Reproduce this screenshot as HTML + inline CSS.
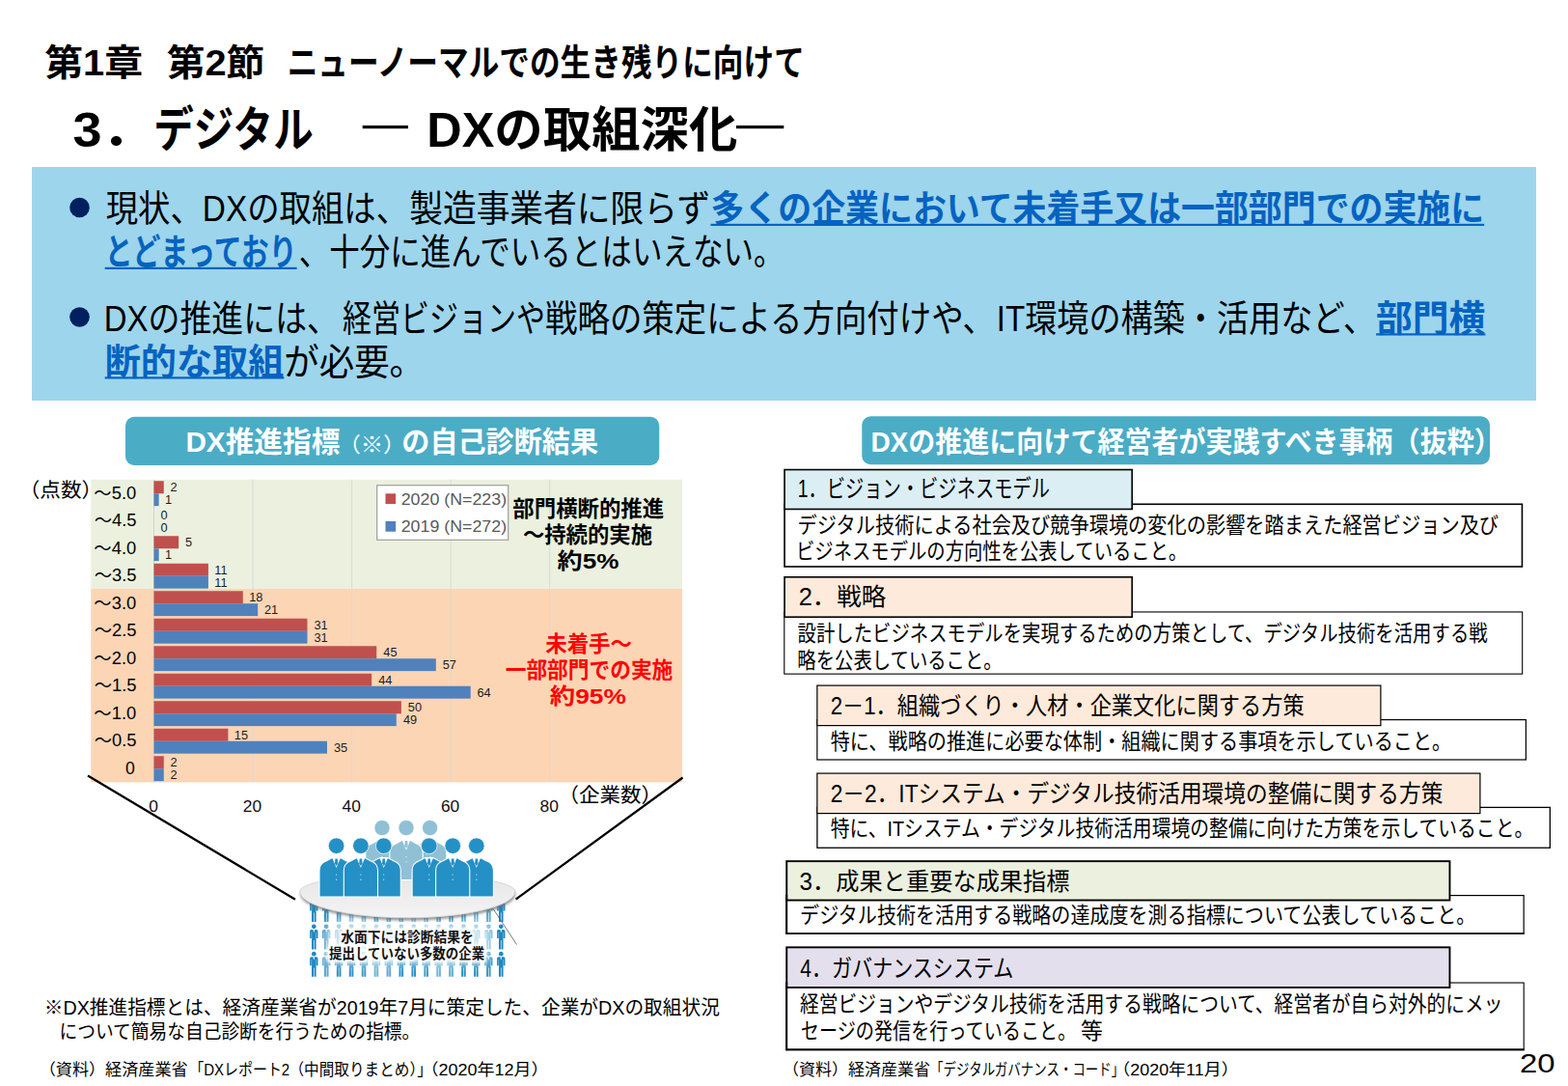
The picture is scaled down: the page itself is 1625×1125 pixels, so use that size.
<!DOCTYPE html>
<html lang="ja">
<head>
<meta charset="utf-8">
<title>第1章 第2節 ニューノーマルでの生き残りに向けて - 3．デジタル ― DXの取組深化―</title>
<style>
html,body{margin:0;padding:0;background:#fff}
body{width:1625px;height:1125px;overflow:hidden;font-family:"Liberation Sans","Noto Sans CJK JP",sans-serif}
#slide{position:relative;width:1625px;height:1125px;overflow:hidden;background:#fff}
#slide>svg{position:absolute;left:0;top:0}
/* real text layer: transparent, selectable / searchable copy sitting on top of the SVG text */
.t{position:absolute;margin:0;padding:0;white-space:nowrap;overflow:hidden;line-height:1.15;font-weight:normal;color:transparent;font-family:"Liberation Sans","Noto Sans CJK JP",sans-serif}
.t b,.b{font-weight:bold}
.t u{text-decoration:none}
text{font-family:"Liberation Sans","Noto Sans CJK JP",sans-serif}
.bl{font-size:12.4px;fill:#262626}
.ax{font-size:17.2px;fill:#1a1a1a;text-anchor:middle}
.lg{font-size:17.4px;fill:#595959}
</style>
</head>
<body>
<div id="slide">
<svg width="1625" height="1125" viewBox="0 0 1625 1125" aria-hidden="true">
<g id="shapes"><rect x="375.7" y="130" width="47.3" height="3.2" fill="#000"/><rect x="763" y="130" width="49.3" height="3.2" fill="#000"/><rect x="33" y="173" width="1559" height="242" fill="#9dd5ec"/><circle cx="82.5" cy="215" r="10.3" fill="#002060"/><circle cx="82.5" cy="328.5" r="10.3" fill="#002060"/><rect x="130" y="431.75" width="553.25" height="50.25" fill="#4bacc6" rx="9"/><rect x="893.25" y="431.25" width="650.75" height="50" fill="#4bacc6" rx="9"/><rect x="813.05" y="522.3" width="764.4" height="64.7" fill="#fff" stroke="#000" stroke-width="1.6"/><rect x="813.05" y="486.55" width="360.15" height="40.9" fill="#dbeef4" stroke="#000" stroke-width="1.6"/><rect x="812.8" y="633.95" width="764.9" height="64.2" fill="#fff" stroke="#000" stroke-width="1.1"/><rect x="813.05" y="597.8" width="360.15" height="41.4" fill="#fdeada" stroke="#000" stroke-width="1.6"/><rect x="846.85" y="745.6" width="734.55" height="41.4" fill="#fff" stroke="#000" stroke-width="1.2"/><rect x="846.85" y="710.1" width="584.05" height="41.5" fill="#fdeada" stroke="#000" stroke-width="1.2"/><rect x="846.9" y="836.4" width="759.45" height="41.85" fill="#fff" stroke="#000" stroke-width="1.3"/><rect x="846.85" y="801.1" width="687.05" height="41.5" fill="#fdeada" stroke="#000" stroke-width="1.2"/><rect x="814.9" y="927.6" width="764.25" height="39.5" fill="#fff" stroke="#000" stroke-width="1.2"/><rect x="815.25" y="892.15" width="687.2" height="40.4" fill="#ebf1de" stroke="#000" stroke-width="1.9"/><rect x="814.85" y="1018.05" width="764.35" height="69.6" fill="#fff" stroke="#000" stroke-width="1.1"/><rect x="815.25" y="981.35" width="687.2" height="41.6" fill="#e4dfec" stroke="#000" stroke-width="1.9"/><path d="M815.25 927V967.7M815.25 1017.5V1088.2" stroke="#000" stroke-width="1.9" fill="none"/><path d="M814.3 967H1579.75" stroke="#000" stroke-width="1.5" fill="none"/><path d="M814.3 1087.3H1579.75" stroke="#000" stroke-width="1.9" fill="none"/></g>
<g id="chart"><rect x="94.25" y="496.75" width="612.75" height="113.4" fill="#ebf1de"/><rect x="94.25" y="610" width="612.75" height="200.4" fill="#fcd5b5"/><line x1="159.5" y1="496.75" x2="159.5" y2="810.4" stroke="#d0d0d0" stroke-width="1"/><line x1="262.06" y1="496.75" x2="262.06" y2="810.4" stroke="#d9d9d9" stroke-width="1"/><line x1="364.62" y1="496.75" x2="364.62" y2="810.4" stroke="#d9d9d9" stroke-width="1"/><line x1="467.18" y1="496.75" x2="467.18" y2="810.4" stroke="#d9d9d9" stroke-width="1"/><line x1="569.74" y1="496.75" x2="569.74" y2="810.4" stroke="#d9d9d9" stroke-width="1"/><rect x="159.5" y="498.25" width="10.26" height="13" fill="#c0504d"/><rect x="159.5" y="511.25" width="5.13" height="12.9" fill="#4f81bd"/><rect x="159.5" y="555.25" width="25.64" height="13" fill="#c0504d"/><rect x="159.5" y="568.25" width="5.13" height="12.9" fill="#4f81bd"/><rect x="159.5" y="583.75" width="56.41" height="13" fill="#c0504d"/><rect x="159.5" y="596.75" width="56.41" height="12.9" fill="#4f81bd"/><rect x="159.5" y="612.25" width="92.3" height="13" fill="#c0504d"/><rect x="159.5" y="625.25" width="107.69" height="12.9" fill="#4f81bd"/><rect x="159.5" y="640.75" width="158.97" height="13" fill="#c0504d"/><rect x="159.5" y="653.75" width="158.97" height="12.9" fill="#4f81bd"/><rect x="159.5" y="669.25" width="230.76" height="13" fill="#c0504d"/><rect x="159.5" y="682.25" width="292.3" height="12.9" fill="#4f81bd"/><rect x="159.5" y="697.75" width="225.63" height="13" fill="#c0504d"/><rect x="159.5" y="710.75" width="328.19" height="12.9" fill="#4f81bd"/><rect x="159.5" y="726.25" width="256.4" height="13" fill="#c0504d"/><rect x="159.5" y="739.25" width="251.27" height="12.9" fill="#4f81bd"/><rect x="159.5" y="754.75" width="76.92" height="13" fill="#c0504d"/><rect x="159.5" y="767.75" width="179.48" height="12.9" fill="#4f81bd"/><rect x="159.5" y="783.25" width="10.26" height="13" fill="#c0504d"/><rect x="159.5" y="796.25" width="10.26" height="12.9" fill="#4f81bd"/><rect x="390.75" y="502.75" width="136" height="56.5" fill="#fff" stroke="#8c8c8c" stroke-width="1"/><rect x="399.5" y="511.3" width="10.6" height="10.7" fill="#c0504d"/><rect x="399.5" y="540" width="10.6" height="10.7" fill="#4f81bd"/><path d="M91 803.5L306 931.7M707.6 805.5L534.5 931.7" stroke="#000" stroke-width="2.2" fill="none"/></g>
<g id="illust"><defs><filter id="bl" x="-20%" y="-50%" width="140%" height="200%"><feGaussianBlur stdDeviation="1.6"/></filter><filter id="bl2" x="-20%" y="-40%" width="140%" height="180%"><feGaussianBlur stdDeviation="5"/></filter><filter id="bl3" x="-5%" y="-30%" width="110%" height="160%"><feMorphology operator="dilate" radius="2"/><feGaussianBlur stdDeviation="1.3"/></filter><linearGradient id="eg" x1="0" y1="0" x2="0" y2="1"><stop offset="0" stop-color="#e6e6e6"/><stop offset="1" stop-color="#f4f4f4"/></linearGradient><g id="pp"><circle cx="0" cy="0" r="2.35"/><path d="M-2.6 3.1h5.2q1.6 0 1.6 1.6v7.4h-1.7v-6.2h-.3v8.4h-4.4v-8.4h-.3v6.2h-1.7v-7.4q0-1.6 1.6-1.6z"/><path d="M-2.3 13.6h2v10h-2zM.3 13.6h2v10h-2z"/><path d="M-.9 3.1h1.8l-.9 3.4z" fill="#fff"/></g></defs><use href="#pp" x="325.3" y="931.3" fill="#2088c0"/><use href="#pp" x="338.23" y="931.3" fill="#2a8fc4"/><use href="#pp" x="351.16" y="931.3" fill="#3c9bcc"/><use href="#pp" x="364.09" y="931.3" fill="#6cb3d8"/><use href="#pp" x="377.02" y="931.3" fill="#57a9d3"/><use href="#pp" x="389.95" y="931.3" fill="#2a8fc4"/><use href="#pp" x="402.88" y="931.3" fill="#2a8fc4"/><use href="#pp" x="415.81" y="931.3" fill="#3c9bcc"/><use href="#pp" x="428.74" y="931.3" fill="#6cb3d8"/><use href="#pp" x="441.67" y="931.3" fill="#57a9d3"/><use href="#pp" x="454.6" y="931.3" fill="#2a8fc4"/><use href="#pp" x="467.53" y="931.3" fill="#2a8fc4"/><use href="#pp" x="480.46" y="931.3" fill="#3c9bcc"/><use href="#pp" x="493.39" y="931.3" fill="#6cb3d8"/><use href="#pp" x="506.32" y="931.3" fill="#57a9d3"/><use href="#pp" x="519.25" y="931.3" fill="#2088c0"/><use href="#pp" x="325.3" y="959.8" fill="#2088c0"/><use href="#pp" x="338.23" y="959.8" fill="#2a8fc4"/><use href="#pp" x="351.16" y="959.8" fill="#2a8fc4"/><use href="#pp" x="364.09" y="959.8" fill="#3c9bcc"/><use href="#pp" x="377.02" y="959.8" fill="#6cb3d8"/><use href="#pp" x="389.95" y="959.8" fill="#57a9d3"/><use href="#pp" x="402.88" y="959.8" fill="#2a8fc4"/><use href="#pp" x="415.81" y="959.8" fill="#2a8fc4"/><use href="#pp" x="428.74" y="959.8" fill="#3c9bcc"/><use href="#pp" x="441.67" y="959.8" fill="#6cb3d8"/><use href="#pp" x="454.6" y="959.8" fill="#57a9d3"/><use href="#pp" x="467.53" y="959.8" fill="#2a8fc4"/><use href="#pp" x="480.46" y="959.8" fill="#2a8fc4"/><use href="#pp" x="493.39" y="959.8" fill="#3c9bcc"/><use href="#pp" x="506.32" y="959.8" fill="#6cb3d8"/><use href="#pp" x="519.25" y="959.8" fill="#2088c0"/><use href="#pp" x="325.3" y="988.2" fill="#2088c0"/><use href="#pp" x="338.23" y="988.2" fill="#57a9d3"/><use href="#pp" x="351.16" y="988.2" fill="#2a8fc4"/><use href="#pp" x="364.09" y="988.2" fill="#2a8fc4"/><use href="#pp" x="377.02" y="988.2" fill="#3c9bcc"/><use href="#pp" x="389.95" y="988.2" fill="#6cb3d8"/><use href="#pp" x="402.88" y="988.2" fill="#57a9d3"/><use href="#pp" x="415.81" y="988.2" fill="#2a8fc4"/><use href="#pp" x="428.74" y="988.2" fill="#2a8fc4"/><use href="#pp" x="441.67" y="988.2" fill="#3c9bcc"/><use href="#pp" x="454.6" y="988.2" fill="#6cb3d8"/><use href="#pp" x="467.53" y="988.2" fill="#57a9d3"/><use href="#pp" x="480.46" y="988.2" fill="#2a8fc4"/><use href="#pp" x="493.39" y="988.2" fill="#2a8fc4"/><use href="#pp" x="506.32" y="988.2" fill="#3c9bcc"/><use href="#pp" x="519.25" y="988.2" fill="#2088c0"/><rect x="337" y="955" width="170" height="44" rx="10" fill="#fff" opacity=".72" filter="url(#bl2)"/><g filter="url(#bl3)" opacity=".9"><text x="353.21" y="975.6" font-size="14.6" font-weight="bold" fill="#fff" stroke="#fff" stroke-width=".6" textLength="137.7" lengthAdjust="spacingAndGlyphs">水面下には診断結果を</text><text x="341.12" y="992.8" font-size="14.6" font-weight="bold" fill="#fff" stroke="#fff" stroke-width=".6" textLength="161.1" lengthAdjust="spacingAndGlyphs">提出していない多数の企業</text></g><path d="M509.5 939L535.5 978.5" stroke="#555" stroke-width=".8"/><path d="M310.8 923.4A111.5 17.6 0 0 1 533.8 923.4A111.5 27.4 0 0 1 310.8 923.4Z" transform="translate(0.4 2.4)" fill="#6e6e6e" opacity=".8" filter="url(#bl)"/><path d="M310.8 923.4A111.5 17.6 0 0 1 533.8 923.4A111.5 27.4 0 0 1 310.8 923.4Z" fill="url(#eg)" stroke="#d2d2d2" stroke-width=".8"/><path d="M378.8 911.5V883.7Q378.8 875.7 386.3 873.4L391.8 870.2H400.2L405.7 873.4Q413.2 875.7 413.2 883.7V911.5Z" fill="#8fc0d6" stroke="#fff" stroke-width="1.1"/><circle cx="396" cy="857.6" r="8.1" fill="#8fc0d6" stroke="#fff" stroke-width=".7"/><path d="M391.6 870L400.4 870L396 880.7Z" fill="#fff"/><path d="M394.8 871h2.4l.5 5.2-1.7 2.6-1.7-2.6z" fill="#8fc0d6"/><circle cx="396" cy="887.7" r=".65" fill="#fff" opacity=".8"/><circle cx="396" cy="892.8" r=".65" fill="#fff" opacity=".8"/><path d="M428.4 911.5V883.7Q428.4 875.7 435.9 873.4L441.4 870.2H449.8L455.3 873.4Q462.8 875.7 462.8 883.7V911.5Z" fill="#8fc0d6" stroke="#fff" stroke-width="1.1"/><circle cx="445.6" cy="857.6" r="8.1" fill="#8fc0d6" stroke="#fff" stroke-width=".7"/><path d="M441.2 870L450 870L445.6 880.7Z" fill="#fff"/><path d="M444.4 871h2.4l.5 5.2-1.7 2.6-1.7-2.6z" fill="#8fc0d6"/><circle cx="445.6" cy="887.7" r=".65" fill="#fff" opacity=".8"/><circle cx="445.6" cy="892.8" r=".65" fill="#fff" opacity=".8"/><path d="M403.8 911.5V883.7Q403.8 875.7 411.3 873.4L416.8 870.2H425.2L430.7 873.4Q438.2 875.7 438.2 883.7V911.5Z" fill="#8fc0d6" stroke="#fff" stroke-width="1.1"/><circle cx="421" cy="857.6" r="8.1" fill="#8fc0d6" stroke="#fff" stroke-width=".7"/><path d="M416.6 870L425.4 870L421 880.7Z" fill="#fff"/><path d="M419.8 871h2.4l.5 5.2-1.7 2.6-1.7-2.6z" fill="#8fc0d6"/><circle cx="421" cy="887.7" r=".65" fill="#fff" opacity=".8"/><circle cx="421" cy="892.8" r=".65" fill="#fff" opacity=".8"/><path d="M331 929V902.1Q331 894.1 338.5 891.8L344.4 888.6H352.8L358.7 891.8Q366.2 894.1 366.2 902.1V929Z" fill="#2490c6" stroke="#fff" stroke-width="1.1"/><circle cx="348.6" cy="876.2" r="8.3" fill="#2490c6" stroke="#fff" stroke-width=".7"/><path d="M344.2 888.4L353 888.4L348.6 899.1Z" fill="#fff"/><path d="M347.4 889.4h2.4l.5 5.2-1.7 2.6-1.7-2.6z" fill="#2490c6"/><circle cx="348.6" cy="906.1" r=".65" fill="#fff" opacity=".8"/><circle cx="348.6" cy="911.2" r=".65" fill="#fff" opacity=".8"/><path d="M380.1 929V902.1Q380.1 894.1 387.6 891.8L393.5 888.6H401.9L407.8 891.8Q415.3 894.1 415.3 902.1V929Z" fill="#2490c6" stroke="#fff" stroke-width="1.1"/><circle cx="397.7" cy="876.2" r="8.3" fill="#2490c6" stroke="#fff" stroke-width=".7"/><path d="M393.3 888.4L402.1 888.4L397.7 899.1Z" fill="#fff"/><path d="M396.5 889.4h2.4l.5 5.2-1.7 2.6-1.7-2.6z" fill="#2490c6"/><circle cx="397.7" cy="906.1" r=".65" fill="#fff" opacity=".8"/><circle cx="397.7" cy="911.2" r=".65" fill="#fff" opacity=".8"/><path d="M427.1 929V902.1Q427.1 894.1 434.6 891.8L440.5 888.6H448.9L454.8 891.8Q462.3 894.1 462.3 902.1V929Z" fill="#2490c6" stroke="#fff" stroke-width="1.1"/><circle cx="444.7" cy="876.2" r="8.3" fill="#2490c6" stroke="#fff" stroke-width=".7"/><path d="M440.3 888.4L449.1 888.4L444.7 899.1Z" fill="#fff"/><path d="M443.5 889.4h2.4l.5 5.2-1.7 2.6-1.7-2.6z" fill="#2490c6"/><circle cx="444.7" cy="906.1" r=".65" fill="#fff" opacity=".8"/><circle cx="444.7" cy="911.2" r=".65" fill="#fff" opacity=".8"/><path d="M476.2 929V902.1Q476.2 894.1 483.7 891.8L489.6 888.6H498L503.9 891.8Q511.4 894.1 511.4 902.1V929Z" fill="#2490c6" stroke="#fff" stroke-width="1.1"/><circle cx="493.8" cy="876.2" r="8.3" fill="#2490c6" stroke="#fff" stroke-width=".7"/><path d="M489.4 888.4L498.2 888.4L493.8 899.1Z" fill="#fff"/><path d="M492.6 889.4h2.4l.5 5.2-1.7 2.6-1.7-2.6z" fill="#2490c6"/><circle cx="493.8" cy="906.1" r=".65" fill="#fff" opacity=".8"/><circle cx="493.8" cy="911.2" r=".65" fill="#fff" opacity=".8"/><path d="M356.3 929V902.1Q356.3 894.1 363.8 891.8L369.7 888.6H378.1L384 891.8Q391.5 894.1 391.5 902.1V929Z" fill="#2490c6" stroke="#fff" stroke-width="1.1"/><circle cx="373.9" cy="876.2" r="8.3" fill="#2490c6" stroke="#fff" stroke-width=".7"/><path d="M369.5 888.4L378.3 888.4L373.9 899.1Z" fill="#fff"/><path d="M372.7 889.4h2.4l.5 5.2-1.7 2.6-1.7-2.6z" fill="#2490c6"/><circle cx="373.9" cy="906.1" r=".65" fill="#fff" opacity=".8"/><circle cx="373.9" cy="911.2" r=".65" fill="#fff" opacity=".8"/><path d="M451.6 929V902.1Q451.6 894.1 459.1 891.8L465 888.6H473.4L479.3 891.8Q486.8 894.1 486.8 902.1V929Z" fill="#2490c6" stroke="#fff" stroke-width="1.1"/><circle cx="469.2" cy="876.2" r="8.3" fill="#2490c6" stroke="#fff" stroke-width=".7"/><path d="M464.8 888.4L473.6 888.4L469.2 899.1Z" fill="#fff"/><path d="M468 889.4h2.4l.5 5.2-1.7 2.6-1.7-2.6z" fill="#2490c6"/><circle cx="469.2" cy="906.1" r=".65" fill="#fff" opacity=".8"/><circle cx="469.2" cy="911.2" r=".65" fill="#fff" opacity=".8"/></g>
<g id="glyphs">
<text x="46.26" y="78" font-size="37.5" font-weight="bold" fill="#000" textLength="101.9" lengthAdjust="spacingAndGlyphs">第1章</text>
<text x="172.76" y="78" font-size="37.5" font-weight="bold" fill="#000" textLength="101.6" lengthAdjust="spacingAndGlyphs">第2節</text>
<text x="297.64" y="78" font-size="37.5" font-weight="bold" fill="#000" textLength="536.2" lengthAdjust="spacingAndGlyphs">ニューノーマルでの生き残りに向けて</text>
<text x="75.51" y="151.5" font-size="50" font-weight="bold" fill="#000" textLength="84" lengthAdjust="spacingAndGlyphs">3．</text>
<text x="159.32" y="152" font-size="50" font-weight="bold" fill="#000" textLength="165.4" lengthAdjust="spacingAndGlyphs">デジタル</text>
<text x="442.35" y="152" font-size="50" font-weight="bold" fill="#000" textLength="322" lengthAdjust="spacingAndGlyphs">DXの取組深化</text>
<text x="109.7" y="229" font-size="37.5" fill="#000" textLength="313.4" lengthAdjust="spacingAndGlyphs">現状、DXの取組は、</text>
<text x="424.15" y="229" font-size="37.5" fill="#000" textLength="312" lengthAdjust="spacingAndGlyphs">製造事業者に限らず</text>
<text x="736.52" y="229" font-size="37.5" font-weight="bold" fill="#0563c1" textLength="801.6" lengthAdjust="spacingAndGlyphs">多くの企業において未着手又は一部部門での実施に</text>
<rect x="736.52" y="231.81" width="801.63" height="2.18" fill="#0563c1"/>
<text x="108.68" y="274" font-size="37.5" font-weight="bold" fill="#0563c1" textLength="198.9" lengthAdjust="spacingAndGlyphs">とどまっており</text>
<rect x="108.68" y="276.81" width="198.93" height="2.18" fill="#0563c1"/>
<text x="309.64" y="274" font-size="37.5" fill="#000" textLength="502.9" lengthAdjust="spacingAndGlyphs">、十分に進んでいるとはいえない。</text>
<text x="107.87" y="342.5" font-size="37.5" fill="#000" textLength="243.1" lengthAdjust="spacingAndGlyphs">DXの推進には、</text>
<text x="355" y="342.5" font-size="37.5" fill="#000" textLength="210" lengthAdjust="spacingAndGlyphs">経営ビジョンや</text>
<text x="565.1" y="342.5" font-size="37.5" fill="#000" textLength="465.9" lengthAdjust="spacingAndGlyphs">戦略の策定による方向付けや、</text>
<text x="1032.74" y="342.5" font-size="37.5" fill="#000" textLength="392.3" lengthAdjust="spacingAndGlyphs">IT環境の構築・活用など、</text>
<text x="1426.09" y="342.5" font-size="37.5" font-weight="bold" fill="#0563c1" textLength="113.3" lengthAdjust="spacingAndGlyphs">部門横</text>
<rect x="1426.09" y="345.31" width="113.27" height="2.18" fill="#0563c1"/>
<text x="108.67" y="387.5" font-size="37.5" font-weight="bold" fill="#0563c1" textLength="185.6" lengthAdjust="spacingAndGlyphs">断的な取組</text>
<rect x="108.67" y="390.31" width="185.64" height="2.18" fill="#0563c1"/>
<text x="294.35" y="387.5" font-size="37.5" fill="#000" textLength="145.7" lengthAdjust="spacingAndGlyphs">が必要。</text>
<text x="192.4" y="468" font-size="29.2" font-weight="bold" fill="#fff" textLength="160" lengthAdjust="spacingAndGlyphs">DX推進指標</text>
<text x="350.46" y="468" font-size="21.5" fill="#fff" textLength="70" lengthAdjust="spacingAndGlyphs">（※）</text>
<text x="416.31" y="468" font-size="29.2" font-weight="bold" fill="#fff" textLength="203.7" lengthAdjust="spacingAndGlyphs">の自己診断結果</text>
<text x="902.4" y="467.5" font-size="29.2" font-weight="bold" fill="#fff" textLength="653.3" lengthAdjust="spacingAndGlyphs">DXの推進に向けて経営者が実践すべき事柄（抜粋）</text>
<text x="19.69" y="515.2" font-size="20.8" fill="#000" textLength="86.4" lengthAdjust="spacingAndGlyphs">（点数）</text>
<text x="97.39" y="516.85" font-size="17.6" fill="#000" textLength="43.8" lengthAdjust="spacingAndGlyphs">～5.0</text>
<text x="97.75" y="545.35" font-size="17.6" fill="#000" textLength="43.8" lengthAdjust="spacingAndGlyphs">～4.5</text>
<text x="97.39" y="573.85" font-size="17.6" fill="#000" textLength="43.8" lengthAdjust="spacingAndGlyphs">～4.0</text>
<text x="97.75" y="602.35" font-size="17.6" fill="#000" textLength="43.8" lengthAdjust="spacingAndGlyphs">～3.5</text>
<text x="97.39" y="630.85" font-size="17.6" fill="#000" textLength="43.8" lengthAdjust="spacingAndGlyphs">～3.0</text>
<text x="97.75" y="659.35" font-size="17.6" fill="#000" textLength="43.8" lengthAdjust="spacingAndGlyphs">～2.5</text>
<text x="97.39" y="687.85" font-size="17.6" fill="#000" textLength="43.8" lengthAdjust="spacingAndGlyphs">～2.0</text>
<text x="97.75" y="716.35" font-size="17.6" fill="#000" textLength="43.8" lengthAdjust="spacingAndGlyphs">～1.5</text>
<text x="97.39" y="744.85" font-size="17.6" fill="#000" textLength="43.8" lengthAdjust="spacingAndGlyphs">～1.0</text>
<text x="97.75" y="773.35" font-size="17.6" fill="#000" textLength="43.8" lengthAdjust="spacingAndGlyphs">～0.5</text>
<text x="130.12" y="801.85" font-size="17.6" fill="#000">0</text>
<text x="578.44" y="831" font-size="20.8" fill="#000" textLength="107.6" lengthAdjust="spacingAndGlyphs">（企業数）</text>
<text x="531.35" y="535" font-size="22.6" font-weight="bold" fill="#000" textLength="156.8" lengthAdjust="spacingAndGlyphs">部門横断的推進</text>
<text x="541.91" y="562.3" font-size="22.6" font-weight="bold" fill="#000" textLength="134.1" lengthAdjust="spacingAndGlyphs">～持続的実施</text>
<text x="577.64" y="589.3" font-size="22.6" font-weight="bold" fill="#000" textLength="63.7" lengthAdjust="spacingAndGlyphs">約5%</text>
<text x="565.18" y="675" font-size="22.6" font-weight="bold" fill="#f00" textLength="89.9" lengthAdjust="spacingAndGlyphs">未着手～</text>
<text x="523.72" y="702" font-size="22.6" font-weight="bold" fill="#f00" textLength="173.6" lengthAdjust="spacingAndGlyphs">一部部門での実施</text>
<text x="569.89" y="729" font-size="22.6" font-weight="bold" fill="#f00" textLength="79" lengthAdjust="spacingAndGlyphs">約95%</text>
<text x="353.21" y="975.6" font-size="14.6" font-weight="bold" fill="#111" textLength="137.7" lengthAdjust="spacingAndGlyphs">水面下には診断結果を</text>
<text x="341.12" y="992.8" font-size="14.6" font-weight="bold" fill="#111" textLength="161.1" lengthAdjust="spacingAndGlyphs">提出していない多数の企業</text>
<text x="45.76" y="1051" font-size="20.8" fill="#000" textLength="700.1" lengthAdjust="spacingAndGlyphs">※DX推進指標とは、経済産業省が2019年7月に策定した、企業がDXの取組状況</text>
<text x="61.49" y="1076.3" font-size="20.8" fill="#000" textLength="373.8" lengthAdjust="spacingAndGlyphs">について簡易な自己診断を行うための指標。</text>
<text x="40.73" y="1113.5" font-size="16.67" fill="#000" textLength="153.9" lengthAdjust="spacingAndGlyphs">（資料）経済産業省</text>
<text x="196.2" y="1113.5" font-size="16.67" fill="#000" textLength="104" lengthAdjust="spacingAndGlyphs">「DXレポート2</text>
<text x="299.43" y="1113.5" font-size="16.67" fill="#000" textLength="148.4" lengthAdjust="spacingAndGlyphs">（中間取りまとめ）」</text>
<text x="436.43" y="1113.5" font-size="16.67" fill="#000" textLength="132.1" lengthAdjust="spacingAndGlyphs">（2020年12月）</text>
<text x="811.13" y="1113.8" font-size="16.67" fill="#000" textLength="152.9" lengthAdjust="spacingAndGlyphs">（資料）経済産業省</text>
<text x="964.1" y="1113.8" font-size="16.67" fill="#000" textLength="201.2" lengthAdjust="spacingAndGlyphs">「デジタルガバナンス・コード」</text>
<text x="1153.23" y="1113.8" font-size="16.67" fill="#000" textLength="130.4" lengthAdjust="spacingAndGlyphs">（2020年11月）</text>
<text x="1574.98" y="1111.3" font-size="28" fill="#000" textLength="36.6" lengthAdjust="spacingAndGlyphs">20</text>
<text x="826.79" y="515.4" font-size="25" fill="#000" textLength="261.2" lengthAdjust="spacingAndGlyphs">1．ビジョン・ビジネスモデル</text>
<text x="826.59" y="551.5" font-size="22.9" fill="#000" textLength="726.5" lengthAdjust="spacingAndGlyphs">デジタル技術による社会及び競争環境の変化の影響を踏まえた経営ビジョン及び</text>
<text x="825.03" y="579" font-size="22.9" fill="#000" textLength="405.3" lengthAdjust="spacingAndGlyphs">ビジネスモデルの方向性を公表していること。</text>
<text x="827.7" y="627.4" font-size="25" fill="#000" textLength="90.6" lengthAdjust="spacingAndGlyphs">2．戦略</text>
<text x="826.55" y="664.2" font-size="22.9" fill="#000" textLength="715.1" lengthAdjust="spacingAndGlyphs">設計したビジネスモデルを実現するための方策として、デジタル技術を活用する戦</text>
<text x="826.31" y="691.8" font-size="22.9" fill="#000" textLength="212.4" lengthAdjust="spacingAndGlyphs">略を公表していること。</text>
<text x="860.7" y="740.3" font-size="25" fill="#000" textLength="491" lengthAdjust="spacingAndGlyphs">2－1．組織づくり・人材・企業文化に関する方策</text>
<text x="860.68" y="775.6" font-size="22.9" fill="#000" textLength="643.6" lengthAdjust="spacingAndGlyphs">特に、戦略の推進に必要な体制・組織に関する事項を示していること。</text>
<text x="860.7" y="831.1" font-size="25" fill="#000" textLength="634.7" lengthAdjust="spacingAndGlyphs">2－2．ITシステム・デジタル技術活用環境の整備に関する方策</text>
<text x="860.68" y="866.3" font-size="22.9" fill="#000" textLength="728.6" lengthAdjust="spacingAndGlyphs">特に、ITシステム・デジタル技術活用環境の整備に向けた方策を示していること。</text>
<text x="828.62" y="921.8" font-size="25" fill="#000" textLength="279.9" lengthAdjust="spacingAndGlyphs">3．成果と重要な成果指標</text>
<text x="829.09" y="956" font-size="22.9" fill="#000" textLength="700.2" lengthAdjust="spacingAndGlyphs">デジタル技術を活用する戦略の達成度を測る指標について公表していること。</text>
<text x="829.3" y="1011.8" font-size="25" fill="#000" textLength="221.1" lengthAdjust="spacingAndGlyphs">4．ガバナンスシステム</text>
<text x="829.09" y="1047.6" font-size="22.9" fill="#000" textLength="728.4" lengthAdjust="spacingAndGlyphs">経営ビジョンやデジタル技術を活用する戦略について、経営者が自ら対外的にメッ</text>
<text x="829.87" y="1075.6" font-size="22.9" fill="#000" textLength="285.4" lengthAdjust="spacingAndGlyphs">セージの発信を行っていること。</text>
<text x="1120.11" y="1075.6" font-size="22.9" fill="#000">等</text>
<text x="176.51" y="509.25" font-size="12.8" fill="#1c1c1c">2</text>
<text x="171.05" y="522.25" font-size="12.8" fill="#1c1c1c">1</text>
<text x="166.4" y="537.75" font-size="12.8" fill="#1c1c1c">0</text>
<text x="166.4" y="550.75" font-size="12.8" fill="#1c1c1c">0</text>
<text x="192.03" y="566.25" font-size="12.8" fill="#1c1c1c">5</text>
<text x="171.05" y="579.25" font-size="12.8" fill="#1c1c1c">1</text>
<text x="222.33" y="594.75" font-size="12.8" fill="#1c1c1c">11</text>
<text x="222.33" y="607.75" font-size="12.8" fill="#1c1c1c">11</text>
<text x="258.23" y="623.25" font-size="12.8" fill="#1c1c1c">18</text>
<text x="273.94" y="636.25" font-size="12.8" fill="#1c1c1c">21</text>
<text x="325.38" y="651.75" font-size="12.8" fill="#1c1c1c">31</text>
<text x="325.38" y="664.75" font-size="12.8" fill="#1c1c1c">31</text>
<text x="397.37" y="680.25" font-size="12.8" fill="#1c1c1c">45</text>
<text x="458.68" y="693.25" font-size="12.8" fill="#1c1c1c">57</text>
<text x="392.24" y="708.75" font-size="12.8" fill="#1c1c1c">44</text>
<text x="494.44" y="721.75" font-size="12.8" fill="#1c1c1c">64</text>
<text x="422.79" y="737.25" font-size="12.8" fill="#1c1c1c">50</text>
<text x="417.88" y="750.25" font-size="12.8" fill="#1c1c1c">49</text>
<text x="242.85" y="765.75" font-size="12.8" fill="#1c1c1c">15</text>
<text x="345.89" y="778.75" font-size="12.8" fill="#1c1c1c">35</text>
<text x="176.51" y="794.25" font-size="12.8" fill="#1c1c1c">2</text>
<text x="176.51" y="807.25" font-size="12.8" fill="#1c1c1c">2</text>
<text x="154.16" y="841.4" font-size="17.4" fill="#111">0</text>
<text x="251.79" y="841.4" font-size="17.4" fill="#111">20</text>
<text x="354.58" y="841.4" font-size="17.4" fill="#111">40</text>
<text x="456.9" y="841.4" font-size="17.4" fill="#111">60</text>
<text x="559.52" y="841.4" font-size="17.4" fill="#111">80</text>
<text class="lg" x="415.72" y="522.6" textLength="109.4" lengthAdjust="spacingAndGlyphs">2020 (N=223)</text>
<text class="lg" x="415.72" y="551" textLength="109.4" lengthAdjust="spacingAndGlyphs">2019 (N=272)</text>
</g>
</svg>
<h2 class="t" style="left:48px;top:42.5px;width:784px;font-size:37.5px"><b>第1章　第2節　ニューノーマルでの生き残りに向けて</b></h2>
<h1 class="t" style="left:78.8px;top:105.5px;width:683.8px;font-size:50px"><b>3．デジタル　― DXの取組深化―</b></h1>
<p class="t" style="left:111.5px;top:195.2px;width:1425px;font-size:37.5px">現状、DXの取組は、製造事業者に限らず<b><u>多くの企業において未着手又は一部部門での実施に</u></b></p>
<p class="t" style="left:111.5px;top:240.2px;width:677px;font-size:37.5px"><b><u>とどまっており</u></b>、十分に進んでいるとはいえない。</p>
<p class="t" style="left:111.5px;top:308.8px;width:1427.5px;font-size:37.5px">DXの推進には、経営ビジョンや戦略の策定による方向付けや、IT環境の構築・活用など、<b><u>部門横</u></b></p>
<p class="t" style="left:111.5px;top:353.8px;width:304.5px;font-size:37.5px"><b><u>断的な取組</u></b>が必要。</p>
<h3 class="t" style="left:195px;top:441.7px;width:424.8px;font-size:29.2px"><b>DX推進指標</b>（※）<b>の自己診断結果</b></h3>
<h3 class="t" style="left:905px;top:441.2px;width:632.5px;font-size:29.2px"><b>DXの推進に向けて経営者が実践すべき事柄（抜粋）</b></h3>
<span class="t" style="left:33.8px;top:496.5px;width:58.5px;font-size:20.8px">（点数）</span>
<span class="t" style="left:99.4px;top:501px;width:41.6px;font-size:17.6px">～5.0</span>
<span class="t" style="left:99.8px;top:529.5px;width:41.2px;font-size:17.6px">～4.5</span>
<span class="t" style="left:99.4px;top:558px;width:41.6px;font-size:17.6px">～4.0</span>
<span class="t" style="left:99.8px;top:586.5px;width:41.2px;font-size:17.6px">～3.5</span>
<span class="t" style="left:99.4px;top:615px;width:41.6px;font-size:17.6px">～3.0</span>
<span class="t" style="left:99.8px;top:643.5px;width:41.2px;font-size:17.6px">～2.5</span>
<span class="t" style="left:99.4px;top:672px;width:41.6px;font-size:17.6px">～2.0</span>
<span class="t" style="left:99.8px;top:700.5px;width:41.2px;font-size:17.6px">～1.5</span>
<span class="t" style="left:99.4px;top:729px;width:41.6px;font-size:17.6px">～1.0</span>
<span class="t" style="left:99.8px;top:757.5px;width:41.2px;font-size:17.6px">～0.5</span>
<span class="t" style="left:131.3px;top:786px;width:9.7px;font-size:17.6px">0</span>
<span class="t" style="left:592.5px;top:812.3px;width:79.8px;font-size:20.8px">（企業数）</span>
<span class="t b" style="left:532.5px;top:514.7px;width:156px;font-size:22.6px">部門横断的推進</span>
<span class="t b" style="left:544.5px;top:542px;width:131.5px;font-size:22.6px">～持続的実施</span>
<span class="t b" style="left:578.8px;top:569px;width:62.2px;font-size:22.6px">約5%</span>
<span class="t b" style="left:566.2px;top:654.7px;width:87.2px;font-size:22.6px">未着手～</span>
<span class="t b" style="left:525px;top:681.7px;width:172.2px;font-size:22.6px">一部部門での実施</span>
<span class="t b" style="left:571px;top:708.7px;width:77.5px;font-size:22.6px">約95%</span>
<span class="t b" style="left:353.8px;top:962.5px;width:137.2px;font-size:14.6px">水面下には診断結果を</span>
<span class="t b" style="left:341.7px;top:979.7px;width:160.9px;font-size:14.6px">提出していない多数の企業</span>
<p class="t" style="left:48.5px;top:1032.3px;width:697px;font-size:20.8px">※DX推進指標とは、経済産業省が2019年7月に策定した、企業がDXの取組状況</p>
<p class="t" style="left:63.2px;top:1057.6px;width:359.2px;font-size:20.8px">について簡易な自己診断を行うための指標。</p>
<p class="t" style="left:52px;top:1098.5px;width:506.3px;font-size:16.7px">（資料）経済産業省 「DXレポート2（中間取りまとめ）」（2020年12月）</p>
<p class="t" style="left:822.4px;top:1098.8px;width:451px;font-size:16.7px">（資料）経済産業省 「デジタルガバナンス・コード」（2020年11月）</p>
<span class="t" style="left:1577px;top:1086.1px;width:33.8px;font-size:28px">20</span>
<h4 class="t" style="left:829.5px;top:492.9px;width:258.5px;font-size:25px">1．ビジョン・ビジネスモデル</h4>
<p class="t" style="left:827.5px;top:530.9px;width:726.2px;font-size:22.9px">デジタル技術による社会及び競争環境の変化の影響を踏まえた経営ビジョン及び</p>
<p class="t" style="left:827.5px;top:558.4px;width:388.5px;font-size:22.9px">ビジネスモデルの方向性を公表していること。</p>
<h4 class="t" style="left:829.5px;top:604.9px;width:88.5px;font-size:25px">2．戦略</h4>
<p class="t" style="left:828px;top:643.6px;width:713.2px;font-size:22.9px">設計したビジネスモデルを実現するための方策として、デジタル技術を活用する戦</p>
<p class="t" style="left:828px;top:671.2px;width:196.4px;font-size:22.9px">略を公表していること。</p>
<h4 class="t" style="left:862.5px;top:717.8px;width:488.8px;font-size:25px">2－1．組織づくり・人材・企業文化に関する方策</h4>
<p class="t" style="left:862px;top:755px;width:628px;font-size:22.9px">特に、戦略の推進に必要な体制・組織に関する事項を示していること。</p>
<h4 class="t" style="left:862.5px;top:808.6px;width:632.5px;font-size:25px">2－2．ITシステム・デジタル技術活用環境の整備に関する方策</h4>
<p class="t" style="left:862px;top:845.7px;width:713px;font-size:22.9px">特に、ITシステム・デジタル技術活用環境の整備に向けた方策を示していること。</p>
<h4 class="t" style="left:830.5px;top:899.3px;width:277.5px;font-size:25px">3．成果と重要な成果指標</h4>
<p class="t" style="left:830px;top:935.4px;width:685px;font-size:22.9px">デジタル技術を活用する戦略の達成度を測る指標について公表していること。</p>
<h4 class="t" style="left:830.5px;top:989.3px;width:218px;font-size:25px">4．ガバナンスシステム</h4>
<p class="t" style="left:830.5px;top:1027px;width:723.2px;font-size:22.9px">経営ビジョンやデジタル技術を活用する戦略について、経営者が自ら対外的にメッ</p>
<p class="t" style="left:830.5px;top:1055px;width:312.1px;font-size:22.9px">セージの発信を行っていること。　等</p>
<span class="t" style="left:177.2px;top:497.7px;width:6.8px;font-size:12.8px">2</span>
<span class="t" style="left:172px;top:510.7px;width:6.5px;font-size:12.8px">1</span>
<span class="t" style="left:166.9px;top:526.2px;width:7.1px;font-size:12.8px">0</span>
<span class="t" style="left:166.9px;top:539.2px;width:7.1px;font-size:12.8px">0</span>
<span class="t" style="left:192.5px;top:554.7px;width:7.1px;font-size:12.8px">5</span>
<span class="t" style="left:172px;top:567.7px;width:6.5px;font-size:12.8px">1</span>
<span class="t" style="left:223.3px;top:583.2px;width:13.6px;font-size:12.8px">11</span>
<span class="t" style="left:223.3px;top:596.2px;width:13.6px;font-size:12.8px">11</span>
<span class="t" style="left:259.2px;top:611.7px;width:13.7px;font-size:12.8px">18</span>
<span class="t" style="left:274.6px;top:624.7px;width:14px;font-size:12.8px">21</span>
<span class="t" style="left:325.9px;top:640.2px;width:14.1px;font-size:12.8px">31</span>
<span class="t" style="left:325.9px;top:653.2px;width:14.1px;font-size:12.8px">31</span>
<span class="t" style="left:397.7px;top:668.7px;width:14.4px;font-size:12.8px">45</span>
<span class="t" style="left:459.2px;top:681.7px;width:14.1px;font-size:12.8px">57</span>
<span class="t" style="left:392.5px;top:697.2px;width:14.6px;font-size:12.8px">44</span>
<span class="t" style="left:495.1px;top:710.2px;width:14.2px;font-size:12.8px">64</span>
<span class="t" style="left:423.3px;top:725.7px;width:14.2px;font-size:12.8px">50</span>
<span class="t" style="left:418.2px;top:738.7px;width:14.3px;font-size:12.8px">49</span>
<span class="t" style="left:243.8px;top:754.2px;width:13.7px;font-size:12.8px">15</span>
<span class="t" style="left:346.4px;top:767.2px;width:14.2px;font-size:12.8px">35</span>
<span class="t" style="left:177.2px;top:782.7px;width:6.8px;font-size:12.8px">2</span>
<span class="t" style="left:177.2px;top:795.7px;width:6.8px;font-size:12.8px">2</span>
<span class="t" style="left:154.8px;top:825.7px;width:9.3px;font-size:17.4px">0</span>
<span class="t" style="left:252.7px;top:825.7px;width:18.8px;font-size:17.4px">20</span>
<span class="t" style="left:355px;top:825.7px;width:19.3px;font-size:17.4px">40</span>
<span class="t" style="left:457.8px;top:825.7px;width:18.8px;font-size:17.4px">60</span>
<span class="t" style="left:560.3px;top:825.7px;width:18.9px;font-size:17.4px">80</span>
<span class="t" style="left:416.6px;top:506.9px;width:108.4px;font-size:17.4px">2020 (N=223)</span>
<span class="t" style="left:416.6px;top:535.3px;width:108.4px;font-size:17.4px">2019 (N=272)</span>
</div>
</body>
</html>
